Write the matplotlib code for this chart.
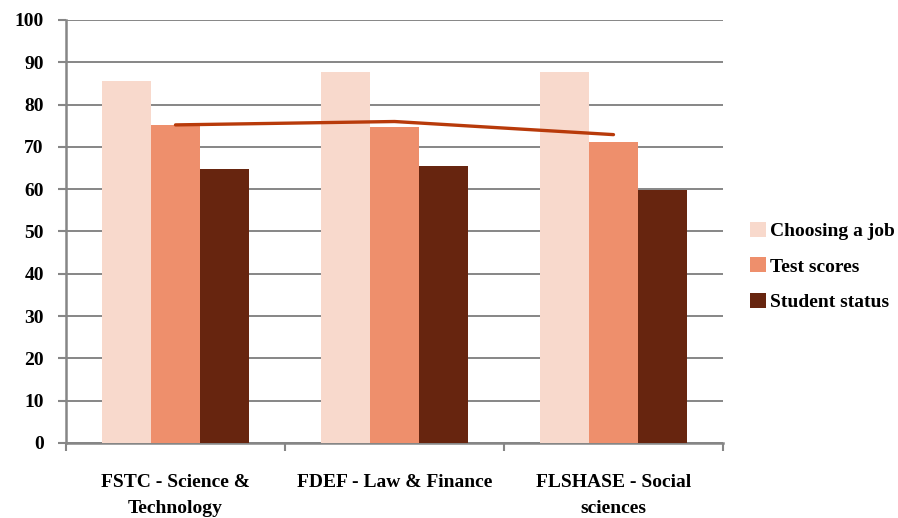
import matplotlib.pyplot as plt
import numpy as np

categories = ["FSTC - Science &\nTechnology", "FDEF - Law & Finance", "FLSHASE - Social\nsciences"]
series_names = ["Choosing a job", "Test scores", "Student status"]
choosing_job = [85.6, 87.8, 87.8]
test_scores = [75.2, 74.6, 71.2]
student_status = [64.7, 65.5, 59.8]
average = [75.2, 76.0, 72.9]
yticks = list(range(0, 101, 10))

colors = ["#f8d9cc", "#ee8f6c", "#67250f"]
line_color = "#b83a0a"
grid_color = "#868686"

plt.rcParams['font.family'] = ['Liberation Serif', 'DejaVu Serif']
plt.rcParams['font.weight'] = 'bold'

fig = plt.figure(figsize=(8.98, 5.18), dpi=100, facecolor="white")
ax = fig.add_axes([0.0735, 0.1448, 0.7316, 0.8166])

x = np.arange(len(categories))
w = 0.225
for k, vals in enumerate([choosing_job, test_scores, student_status]):
    ax.bar(x + (k - 1) * w, vals, w, color=colors[k], label=series_names[k], zorder=3)

ax.plot(x, average, color=line_color, lw=2.4, zorder=4, solid_capstyle='round')

ax.set_xlim(-0.5, len(categories) - 0.5)
ax.set_ylim(0, 100)
ax.set_yticks(yticks)
ax.yaxis.grid(True, color=grid_color, lw=1.4, zorder=0)

# category ticks sit on the group boundaries
ax.set_xticks(np.arange(len(categories) + 1) - 0.5)
ax.set_xticklabels([])
ax.set_xticks(x, minor=True)
ax.set_xticklabels(categories, minor=True, fontsize=14, fontweight='bold', linespacing=1.75)
ax.tick_params(axis='x', which='minor', length=0, pad=22)
ax.tick_params(axis='x', which='major', length=6, width=1.5, color=grid_color, direction='out')
ax.tick_params(axis='y', length=6, width=1.5, color=grid_color, pad=10, labelsize=14)

for s in ['top', 'right']:
    ax.spines[s].set_visible(False)
for s in ['left', 'bottom']:
    ax.spines[s].set_color(grid_color)
    ax.spines[s].set_linewidth(1.8)

leg = fig.legend(loc='upper left', bbox_to_anchor=(0.816, 0.605), frameon=False,
                 fontsize=14, handlelength=0.8, handleheight=0.8,
                 handletextpad=0.2, labelspacing=0.88)

fig.savefig("out.png", dpi=100)
